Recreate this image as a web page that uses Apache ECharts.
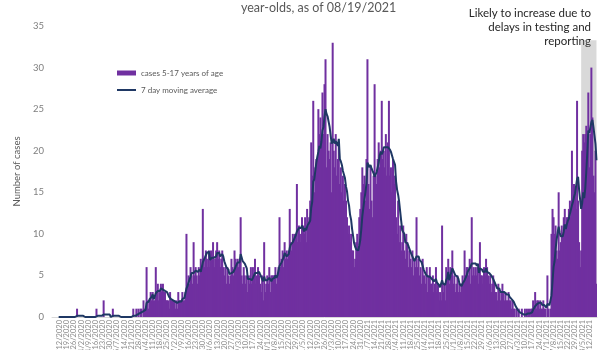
<!DOCTYPE html>
<html>
<head>
<meta charset="utf-8">
<script src="https://cdn.jsdelivr.net/npm/echarts@6/dist/echarts.min.js"></script>
<style>
  html, body { margin: 0; padding: 0; background: #ffffff; }
  #chart { width: 600px; height: 350px; }
</style>
</head>
<body>
<div id="chart"></div>
<script>
// Daily reported cases among 5-17 year-olds, one value per day starting 3/5/2020.
const firstDay = [2020, 3, 5];
const dailyCases = [
  // Mar-May 2020
  0,0,0,0,0,0,0,  0,0,0,0,0,0,0,  0,0,0,0,0,0,0,  0,0,0,1,0,0,0,
  0,0,0,0,0,0,0,  0,0,0,0,0,0,0,  0,1,0,0,0,0,0,  0,2,0,0,0,0,0,
  0,0,0,1,0,0,0,  0,0,0,0,0,0,0,  0,0,0,0,0,0,0,  0,0,1,0,0,1,0,
  // late May - Aug 2020
  1,0,1,1,0,2,1,  1,6,2,1,2,3,2,  3,2,2,6,3,4,2,  3,4,3,4,3,3,2,
  2,2,1,3,2,2,2,  2,1,2,1,3,2,2,  2,3,2,2,3,10,4, 5,4,6,5,4,9,5,
  6,5,4,6,5,7,6,  13,7,6,8,7,6,8, 6,8,7,9,6,7,8,  9,7,8,6,7,8,6,
  // late Aug - Oct 2020
  5,6,4,6,5,4,5,  7,6,5,8,7,6,7,  6,7,12,5,4,6,5, 4,5,3,5,4,6,4,
  6,5,7,4,5,6,5,  4,3,5,2,9,3,4,  5,4,6,3,5,5,5,  5,6,4,5,6,12,6,
  7,8,6,9,7,8,7,  8,13,9,8,10,9,10,
  // Oct 29 2020 - Jan 2021
  10,16,9,11,10,9,12,  11,10,12,9,13,11,12,  14,21,17,26,15,18,19,
  19,25,22,24,21,27,22,  28,31,18,22,20,19,21,  15,33,20,18,22,17,19,
  21,16,18,15,17,14,16,  14,12,10,11,9,10,8,  8,6,7,9,10,8,12,
  13,15,18,16,17,14,19,  31,16,13,18,14,12,17,  28,17,16,19,21,18,20,
  26,19,20,18,22,17,21,  26,17,18,15,19,16,17,
  // Feb - Apr 2021
  12,10,14,9,11,8,9,  11,8,7,10,9,6,8,  7,6,8,5,7,6,12,  6,7,5,6,4,7,5,
  5,4,6,3,5,6,4,  4,5,3,4,6,3,4,  2,3,2,11,3,4,2,  6,5,7,4,6,5,8,
  4,5,3,4,5,3,4,  3,4,5,4,8,5,6,  6,5,7,4,12,5,6,  5,6,5,6,4,9,5,
  // May - Jun 2021
  5,4,6,5,7,6,5,  4,5,3,4,5,4,3,  3,2,4,3,2,3,4,  3,2,3,2,2,3,2,
  2,1,2,1,1,0,1,  0,1,0,0,1,0,0,  1,0,1,0,1,0,1,  1,2,1,3,1,2,2,
  1,2,1,1,2,1,1,
  // Jul - Aug 2021
  0,5,1,0,1,10,13,  12,10,11,8,7,15,8,  9,11,10,12,13,11,12,
  12,13,14,12,20,14,16,  15,13,26,14,9,6,8,  20,22,21,22,23,22,27,
  18,22,30,24,17,15,20,  4
];

const barName = 'cases 5-17 years of age';
const lineName = '7 day moving average';
const shadeFrom = '8/4/2021';
const shadeTo = '8/19/2021';
const shadeTop = 33.3;
const yTicks = [0, 5, 10, 15, 20, 25, 30, 35];

// Category labels in M/D/YYYY form, one per day.
const dates = [];
{
  const d = new Date(firstDay[0], firstDay[1] - 1, firstDay[2]);
  for (let i = 0; i < dailyCases.length; i++) {
    dates.push((d.getMonth() + 1) + '/' + d.getDate() + '/' + d.getFullYear());
    d.setDate(d.getDate() + 1);
  }
}

// Trailing 7-day mean of the daily counts.
const movingAvg = dailyCases.map((v, i) => {
  if (i < 6) return '-';
  let s = 0;
  for (let j = i - 6; j <= i; j++) s += dailyCases[j];
  return +(s / 7).toFixed(2);
});

const font = 'Lato, "Open Sans", sans-serif';
const legendText = { fontSize: 8, color: '#595959', fontFamily: font };
const chart = echarts.init(document.getElementById('chart'), null, { renderer: 'canvas' });
chart.setOption({
  animation: false,
  backgroundColor: '#ffffff',
  title: {
    text: 'year-olds, as of 08/19/2021',
    left: 236,
    top: -4,
    textStyle: { fontSize: 12.5, fontWeight: 'normal', color: '#595959', fontFamily: font }
  },
  graphic: [{
    type: 'text',
    x: 591,
    y: 6,
    style: {
      text: 'Likely to increase due to\ndelays in testing and\nreporting',
      align: 'right',
      font: '11.5px ' + font,
      lineHeight: 14,
      fill: '#262626'
    }
  }],
  legend: [
    {
      left: 112, top: 64,
      itemWidth: 19, itemHeight: 5, itemGap: 4,
      textStyle: legendText,
      data: [{ name: barName, icon: 'rect' }]
    },
    {
      left: 112, top: 81,
      itemWidth: 19, itemHeight: 2, itemGap: 4,
      textStyle: legendText,
      data: [{ name: lineName, icon: 'rect' }]
    }
  ],
  grid: { left: 52, right: 3, top: 26, bottom: 33, containLabel: false, outerBoundsMode: 'none' },
  xAxis: {
    type: 'category',
    data: dates,
    boundaryGap: true,
    axisLine: { show: true, lineStyle: { color: '#d9d9d9', width: 1 } },
    axisTick: { show: false },
    axisLabel: {
      rotate: 90,
      interval: 6,
      fontSize: 7.5,
      color: '#8c8c8c',
      margin: 3,
      fontFamily: font
    },
    splitLine: { show: false }
  },
  yAxis: {
    type: 'value',
    min: yTicks[0],
    max: yTicks[yTicks.length - 1],
    interval: 5,
    name: 'Number of cases',
    nameLocation: 'middle',
    nameGap: 30,
    nameTextStyle: { fontSize: 9.5, color: '#595959', fontFamily: font },
    axisLine: { show: false },
    axisTick: { show: false },
    splitLine: { show: false },
    axisLabel: { fontSize: 9.5, color: '#7f7f7f', margin: 8, fontFamily: font }
  },
  series: [
    {
      name: barName,
      type: 'bar',
      data: dailyCases,
      barWidth: 2,
      itemStyle: { color: '#7030a0' },
      z: 2
    },
    {
      name: lineName,
      type: 'line',
      data: movingAvg,
      symbol: 'none',
      smooth: false,
      lineStyle: { color: '#1f3864', width: 2 },
      itemStyle: { color: '#1f3864' },
      z: 3
    },
    {
      name: 'shade',
      type: 'line',
      data: [],
      z: 10,
      silent: true,
      markArea: {
        silent: true,
        itemStyle: { color: 'rgba(128,128,128,0.3)' },
        data: [[{ xAxis: shadeFrom, yAxis: 0 }, { xAxis: shadeTo, yAxis: shadeTop }]]
      }
    }
  ]
});
</script>
</body>
</html>
